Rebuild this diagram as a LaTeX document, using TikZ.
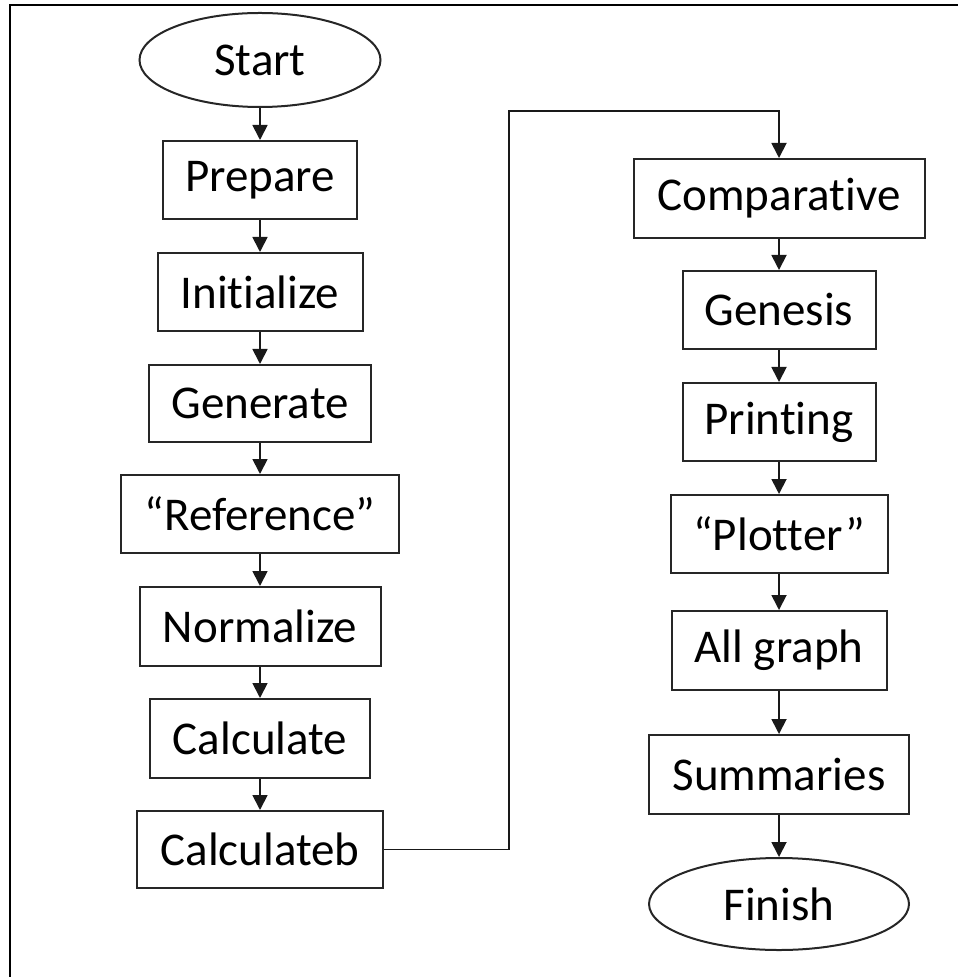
\documentclass[tikz,border=0pt]{standalone}
\usepackage{fontspec}
\setmainfont[Ligatures={NoCommon}]{Carlito}
\usetikzlibrary{shapes.geometric,arrows.meta}
\begin{document}
\begin{tikzpicture}[x=0.5pt,y=-0.5pt,
  every node/.style={font=\fontsize{23.5}{27}\selectfont, inner sep=0pt, line width=1pt, draw=black!85},
  stepbox/.style={rectangle},
  term/.style={ellipse},
  arr/.style={line width=0.9pt, draw=black!90, -{Triangle[width=7.5pt,length=7.5pt]}}]
\useasboundingbox (0,0) rectangle (958,977);
\draw[line width=1pt] (10,977) -- (10,5) -- (958,5);
% left column
\node[term, minimum width=120.5pt, minimum height=47pt] (start) at (260,60) {Start};
\node[stepbox, minimum width=97pt, minimum height=39pt] (prep) at (260,180) {Prepare};
\node[stepbox, minimum width=102.5pt, minimum height=39pt] (init) at (260,292) {Initialize};
\node[stepbox, minimum width=111pt, minimum height=38.5pt] (gen) at (260,403.5) {Generate};
\node[stepbox, minimum width=139pt, minimum height=39pt] (ref) at (260,514) {“Reference”};
\node[stepbox, minimum width=120.5pt, minimum height=39.5pt] (norm) at (260,626.5) {Normalize};
\node[stepbox, minimum width=110pt, minimum height=39.5pt] (calc) at (260,738.5) {Calculate};
\node[stepbox, minimum width=123pt, minimum height=38.5pt] (calcb) at (260,849.5) {Calculateb};
% right column
\node[stepbox, minimum width=145.5pt, minimum height=39.5pt] (comp) at (779,198.5) {Comparative};
\node[stepbox, minimum width=96.5pt, minimum height=39pt] (gene) at (779,310) {Genesis};
\node[stepbox, minimum width=96.5pt, minimum height=39pt] (print) at (779,422) {Printing};
\node[stepbox, minimum width=108.5pt, minimum height=39pt] (plot) at (779,534) {“Plotter”};
\node[stepbox, minimum width=107.5pt, minimum height=39.5pt] (allg) at (779,650.5) {All graph};
\node[stepbox, minimum width=130pt, minimum height=39.5pt] (summ) at (779,774.5) {Summaries};
\node[term, minimum width=130pt, minimum height=46pt] (fin) at (779,904) {Finish};
% connectors
\draw[arr] (start) -- (prep);
\draw[arr] (prep) -- (init);
\draw[arr] (init) -- (gen);
\draw[arr] (gen) -- (ref);
\draw[arr] (ref) -- (norm);
\draw[arr] (norm) -- (calc);
\draw[arr] (calc) -- (calcb);
\coordinate (j1) at (509,111);
\draw[arr] (calcb.east) -| (j1) -| (comp.north);
\draw[arr] (comp) -- (gene);
\draw[arr] (gene) -- (print);
\draw[arr] (print) -- (plot);
\draw[arr] (plot) -- (allg);
\draw[arr] (allg) -- (summ);
\draw[arr] (summ) -- (fin);
\end{tikzpicture}
\end{document}
